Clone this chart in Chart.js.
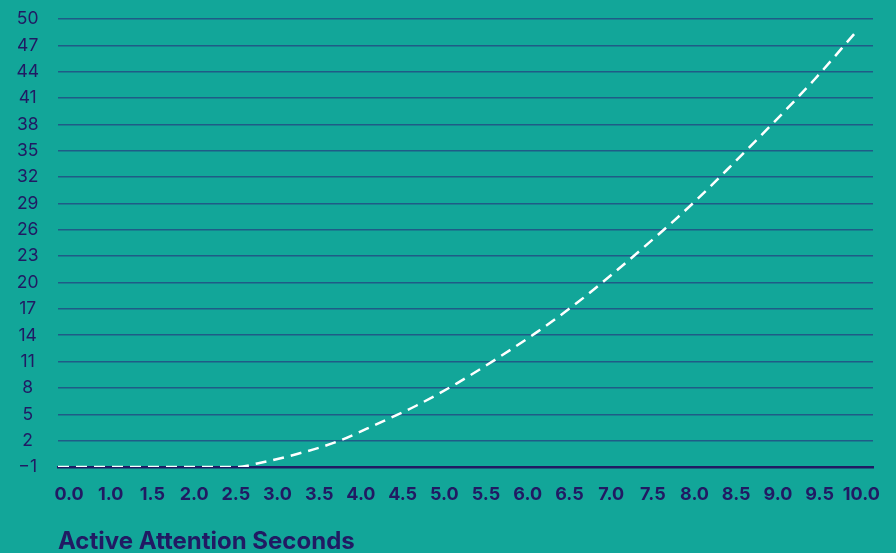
<!DOCTYPE html>
<html>
<head>
<meta charset="utf-8">
<script src="https://cdn.jsdelivr.net/npm/chart.js@4/dist/chart.umd.min.js"></script>
<style>
  html, body { margin: 0; padding: 0; background: #12a699; }
  #wrap { width: 896px; height: 553px; position: relative; }
</style>
</head>
<body>
<div id="wrap"><canvas id="c" width="896" height="553"></canvas></div>
<script>
// Tick labels shown on the x axis (as printed in the chart)
const xTickLabels = ['0.0','1.0','1.5','2.0','2.5','3.0','3.5','4.0','4.5','5.0','5.5','6.0','6.5','7.0','7.5','8.0','8.5','9.0','9.5','10.0'];
// Curve sample positions (seconds) and values
const seconds = [0, 0.5, 1, 1.5, 2, 2.25, 2.5, 3, 3.5, 4, 4.5, 5, 5.5, 6, 6.5, 7, 7.5, 8, 8.5, 9, 9.5, 10];
const values  = [-1, -1, -1, -1, -1, -1, -0.6, 0.48, 1.88, 3.88, 6.0, 8.5, 11.3, 14.3, 17.6, 21.3, 25.2, 29.3, 33.8, 38.4, 43.2, 48.4];
// y axis range / step
const yMin = -1, yMax = 50, yStep = 3;

const NAVY = '#211a63';
const GRID = '#1f5b87';

const points = seconds.map((s, i) => ({ x: s, y: values[i] }));

new Chart(document.getElementById('c'), {
  type: 'line',
  data: {
    datasets: [{
      data: points,
      xAxisID: 'xs',
      borderColor: '#ffffff',
      borderWidth: 2.5,
      borderDash: [11, 7],
      pointRadius: 0,
      fill: false,
      cubicInterpolationMode: 'monotone'
    }]
  },
  options: {
    responsive: false,
    animation: false,
    layout: { padding: { left: 0, right: 23, top: 19, bottom: 0 } },
    plugins: { legend: { display: false }, tooltip: { enabled: false } },
    scales: {
      xs: {
        type: 'linear',
        position: 'bottom',
        min: 0,
        max: 10.226,
        display: false
      },
      x: {
        type: 'linear',
        position: 'bottom',
        min: -0.264,
        max: 19.28,
        grid: { display: false, drawTicks: false },
        border: { display: true, color: NAVY, width: 2.5 },
        afterBuildTicks: (scale) => { scale.ticks = xTickLabels.map((_, i) => ({ value: i })); },
        afterFit: (scale) => { scale.height = 86; scale.paddingLeft = 0; scale.paddingRight = 0; scale.paddingTop = 0; scale.paddingBottom = 0; },
        ticks: {
          autoSkip: false,
          maxRotation: 0,
          padding: 17,
          color: NAVY,
          font: { family: 'Inter', size: 18, weight: 'bold' },
          callback: (v, i) => xTickLabels[i]
        },
        title: {
          display: true,
          text: 'Active Attention Seconds',
          align: 'start',
          color: NAVY,
          font: { family: 'Inter', size: 24, weight: 'bold' },
          padding: { top: 0, bottom: -3 }
        }
      },
      y: {
        type: 'linear',
        min: yMin,
        max: yMax,
        afterFit: (scale) => { scale.width = 58; scale.paddingTop = 0; scale.paddingBottom = 0; scale.paddingLeft = 0; scale.paddingRight = 0; },
        grid: { color: GRID, lineWidth: 1.5, drawTicks: false },
        border: { display: false },
        ticks: {
          stepSize: yStep,
          padding: 19,
          color: NAVY,
          crossAlign: 'center',
          font: { family: 'Inter', size: 17.5 },
          callback: (v) => (v < 0 ? '\u2212' + Math.abs(v) : String(v))
        }
      }
    }
  }
});
</script>
</body>
</html>
